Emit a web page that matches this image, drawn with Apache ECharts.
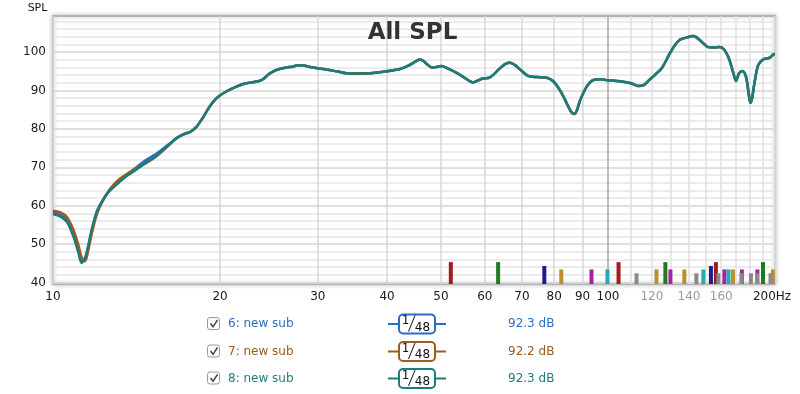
<!DOCTYPE html>
<html><head><meta charset="utf-8">
<script src="https://cdn.jsdelivr.net/npm/echarts@6/dist/echarts.min.js"></script>
<style>html,body{margin:0;padding:0;background:#fff}#c{width:800px;height:394px}</style>
</head><body><div id="c"></div>
<script>
// ---------- data ----------
const freqs = [10,10.3,10.6,10.88,11.1,11.26,11.42,11.58,11.75,12,
  12.3,12.6,12.9,13.2,13.6,14.1,14.75,15.3,15.8,16.3,
  16.7,17.2,17.66,18.15,18.6,19,19.4,19.9,20.56,21.3,
  22.03,22.8,23.44,23.93,24.5,24.95,25.6,26.37,27,27.67,
  28.3,29.05,30.69,32.45,34.29,37.26,39.93,42.19,43.6,44.59,
  45.85,46.6,47.14,48.32,49.3,50.16,51.21,53.38,55.2,57.19,
  58.3,59.41,61.29,63.89,65.5,66.6,68,69.42,71.77,74.5,
  77.57,79.72,81.5,83.1,84.84,86,87.05,88,89.07,91.57,
  94.39,97,99.46,105.1,110,113.4,116,119,122,125,
  127.5,129.3,132,134.8,138.6,142.6,146.5,149,151.6,155,
  159.1,162,164.7,166.5,168.2,170.1,172.3,174.7,177.3,179.2,
  180.6,182,183.2,186.5,190.5,194.4,196.5,198.5,200];

const spl6 = [58.2,57.7,56.3,52.8,48.8,45.4,46.0,49.3,53.6,58.3,
  61.4,63.7,65.3,66.6,68.2,69.9,72.0,73.4,74.9,76.4,
  77.6,78.6,79.2,80.6,82.8,85.0,86.9,88.5,89.8,90.9,
  91.7,92.1,92.4,93.0,94.3,95.0,95.6,96.0,96.2,96.6,
  96.5,96.1,95.6,95.0,94.4,94.5,95.0,95.6,96.4,97.2,
  98.1,97.6,96.9,95.9,96.2,96.4,95.9,94.6,93.3,92.1,
  92.6,93.1,93.4,95.8,97.0,97.2,96.6,95.5,93.8,93.5,
  93.3,92.4,90.6,88.5,85.8,84.3,83.9,85.0,87.4,91.0,
  92.8,92.9,92.7,92.4,91.9,91.2,91.4,92.9,94.3,95.8,
  98.0,99.7,101.8,103.2,103.8,104.2,103.1,102.1,101.3,101.2,
  101.3,100.6,98.8,96.8,94.6,92.5,94.5,95.1,93.6,89.5,
  86.8,88.2,91.0,96.6,98.1,98.4,98.7,99.4,99.5];

const spl7 = [58.7,58.3,57.0,53.8,50.0,46.6,45.5,48.5,52.8,57.8,
  61.3,63.9,65.7,67.0,68.3,69.6,71.2,72.7,74.4,76.2,
  77.6,78.6,79.2,80.6,82.8,85.0,86.9,88.5,89.8,90.9,
  91.7,92.1,92.4,93.0,94.3,95.0,95.6,96.0,96.2,96.6,
  96.5,96.1,95.6,95.0,94.4,94.5,95.0,95.6,96.4,97.2,
  98.1,97.6,96.9,95.9,96.2,96.4,95.9,94.6,93.3,92.1,
  92.6,93.1,93.4,95.8,97.0,97.2,96.6,95.5,93.8,93.5,
  93.3,92.4,90.6,88.5,85.8,84.3,83.9,85.0,87.4,91.0,
  92.8,92.9,92.7,92.4,91.9,91.2,91.4,92.9,94.3,95.8,
  98.0,99.7,101.8,103.2,103.8,104.2,103.1,102.1,101.3,101.2,
  101.3,100.6,98.8,96.8,94.6,92.5,94.5,95.1,93.6,89.5,
  86.8,88.2,91.0,96.6,98.1,98.4,98.7,99.4,99.5];

const spl8 = [57.8,57.2,55.7,52.0,48.0,45.1,46.4,49.8,54.0,58.6,
  61.6,63.6,65.0,66.3,67.8,69.3,71.3,72.8,74.5,76.3,
  77.6,78.6,79.2,80.6,82.8,85.0,86.9,88.5,89.8,90.9,
  91.7,92.1,92.4,93.0,94.3,95.0,95.6,96.0,96.2,96.6,
  96.5,96.1,95.6,95.0,94.4,94.5,95.0,95.6,96.4,97.2,
  98.1,97.6,96.9,95.9,96.2,96.4,95.9,94.6,93.3,92.1,
  92.6,93.1,93.4,95.8,97.0,97.2,96.6,95.5,93.8,93.5,
  93.3,92.4,90.6,88.5,85.8,84.3,83.9,85.0,87.4,91.0,
  92.8,92.9,92.7,92.4,91.9,91.2,91.4,92.9,94.3,95.8,
  98.0,99.7,101.8,103.2,103.8,104.2,103.1,102.1,101.3,101.2,
  101.3,100.6,98.8,96.8,94.6,92.5,94.5,95.1,93.6,89.5,
  86.8,88.2,91.0,96.6,98.1,98.4,98.7,99.4,99.5];

// marker bars: [frequency Hz, top value]
const barsRed = [[52.1,45.3],[104.5,45.3],[156.5,45.3]];
const barsGreen = [[63.4,45.3],[126.9,45.3],[190.3,45.3]];
const barsNavy = [[76.8,44.3],[153.3,44.3]];
const barsGold = [[82.4,43.4],[122.3,43.4],[137.3,43.4],[168.0,43.4],[198.3,43.4]];
const barsMagenta = [[93.4,43.4],[129.6,43.4],[162.1,43.4],[174.3,43.4],[185.9,43.4]];
const barsCyan = [[99.8,43.4],[148.6,43.4],[164.9,43.4]];
const barsGray = [[112.6,42.4],[144.3,42.4],[158.1,42.4],[174.0,42.4],[181.0,42.4],[185.6,42.4],[196.3,42.4]];

const seriesNames = ['6: new sub','7: new sub','8: new sub'];
const seriesLevels = ['92.3 dB','92.2 dB','92.3 dB'];
const smoothNum = '1';
const smoothDen = '48';
const chartTitle = 'All SPL';
const yName = 'SPL';

const xGridValues = [10,20,30,40,50,60,70,80,90,100,110,120,130,140,150,160,170,180,190,200];
const xLabelValues = [10,20,30,40,50,60,70,80,90,100,120,140,160,200];
const yLabelValues = [40,50,60,70,80,90,100];
const yGridValues = [40,42,44,46,48,50,52,54,56,58,60,62,64,66,68,70,72,74,76,78,80,82,84,86,88,90,92,94,96,98,100,102,104,106,108];

// ---------- styles ----------
const FONT = 'DejaVu Sans';
const lineColors = ['#2b6cc4','#9e5c1f','#1b7d79'];
const textColors = ['#2c70c2','#9a5a1e','#1e807c'];

const xSplitColors = xGridValues.map(v => v === 100 ? '#a8a8a8' : (v > 100 ? '#e0e0e0' : '#d6d6d6'));
const ySplitColors = yGridValues.map(v => v % 10 === 0 ? '#d4d4d4' : '#e6e6e6');

const chart = echarts.init(document.getElementById('c'), null, {renderer: 'canvas'});

function lineSeries(vals, i) {
  return {
    type: 'line', name: seriesNames[i],
    data: freqs.map((f, k) => [f, vals[k]]),
    showSymbol: false, smooth: 0.3, z: 3 + i,
    lineStyle: {width: 2.5, color: lineColors[i]},
    itemStyle: {color: lineColors[i]},
    animation: false
  };
}
function barSeries(data, color) {
  return {
    type: 'bar', data: data, barWidth: 4, barGap: '-100%', clip: true,
    itemStyle: {color: color}, z: 2, animation: false
  };
}

const graphics = [];
graphics.push({type: 'text', x: 412.5, y: 33, z: 100,
  style: {text: chartTitle, font: 'bold 23px ' + FONT, fill: '#333', align: 'center', verticalAlign: 'middle'}});
graphics.push({type: 'text', x: 37.5, y: 8, z: 100,
  style: {text: yName, font: '11px ' + FONT, fill: '#111', align: 'center', verticalAlign: 'middle'}});

const rowY = [324, 351.5, 378.5];
seriesNames.forEach((name, i) => {
  const ry = rowY[i];
  graphics.push({type: 'rect', shape: {x: 207.5, y: ry - 6.5, width: 12, height: 12, r: 2.5},
    style: {fill: '#fdfdfd', stroke: '#9a9a9a', lineWidth: 1}});
  graphics.push({type: 'polyline', shape: {points: [[210.5, ry - 0.5], [213, ry + 2.8], [217.5, ry - 4]]},
    style: {fill: null, stroke: '#444', lineWidth: 1.5}});
  graphics.push({type: 'text', x: 228, y: ry,
    style: {text: name, font: '12px ' + FONT, fill: textColors[i], align: 'left', verticalAlign: 'middle'}});
  graphics.push({type: 'line', shape: {x1: 388, y1: ry, x2: 400, y2: ry}, style: {stroke: lineColors[i], lineWidth: 2}});
  graphics.push({type: 'line', shape: {x1: 434, y1: ry, x2: 446, y2: ry}, style: {stroke: lineColors[i], lineWidth: 2}});
  graphics.push({type: 'rect', shape: {x: 399, y: ry - 9.5, width: 36, height: 19, r: 4},
    style: {fill: '#fff', stroke: lineColors[i], lineWidth: 2}});
  graphics.push({type: 'text', x: 405.5, y: ry - 3, z: 10,
    style: {text: smoothNum, font: '12px ' + FONT, fill: '#111', align: 'center', verticalAlign: 'middle'}});
  graphics.push({type: 'line', z: 10, shape: {x1: 408.5, y1: ry + 7.5, x2: 415, y2: ry - 8.5}, style: {stroke: '#111', lineWidth: 1}});
  graphics.push({type: 'text', x: 422.5, y: ry + 3.5, z: 10,
    style: {text: smoothDen, font: '12px ' + FONT, fill: '#111', align: 'center', verticalAlign: 'middle'}});
  graphics.push({type: 'text', x: 508, y: ry,
    style: {text: seriesLevels[i], font: '12px ' + FONT, fill: textColors[i], align: 'left', verticalAlign: 'middle'}});
});

chart.setOption({
  animation: false,
  backgroundColor: '#fff',
  grid: {left: 53, right: 25, top: 16, bottom: 110, show: true, backgroundColor: '#fff',
    borderColor: '#b3b3b3', borderWidth: 2, shadowColor: 'rgba(0,0,0,0.25)', shadowBlur: 4},
  xAxis: {
    type: 'log', logBase: 10, min: 10, max: 200,
    axisLine: {show: false},
    axisTick: {show: false, customValues: xGridValues},
    axisLabel: {
      customValues: xLabelValues, margin: 7, fontFamily: FONT, fontSize: 12,
      formatter: function (v) { const r = Math.round(v); return r === 200 ? '{hz|200Hz}' : String(r); },
      color: function (v) { const r = Math.round(v); return (r === 120 || r === 140 || r === 160) ? '#9a9a9a' : '#1a1a1a'; },
      rich: {hz: {fontFamily: FONT, fontSize: 12, color: '#1a1a1a', padding: [0, 6, 0, 0]}}
    },
    splitLine: {show: true, lineStyle: {color: xSplitColors, width: 1.5}}
  },
  yAxis: {
    type: 'value', min: 39.6, max: 109.4,
    axisLine: {show: false},
    axisTick: {show: false, customValues: yGridValues},
    axisLabel: {customValues: yLabelValues, margin: 7, fontFamily: FONT, fontSize: 12, color: '#1a1a1a'},
    splitLine: {show: true, lineStyle: {color: ySplitColors, width: 1.5}}
  },
  series: [
    barSeries(barsRed, '#a01c1c'),
    barSeries(barsGreen, '#1f7a22'),
    barSeries(barsNavy, '#1c1c8e'),
    barSeries(barsGold, '#b8912c'),
    barSeries(barsMagenta, '#a323a6'),
    barSeries(barsCyan, '#25a9b3'),
    barSeries(barsGray, '#8a8a8a'),
    lineSeries(spl6, 0),
    lineSeries(spl7, 1),
    lineSeries(spl8, 2)
  ],
  graphic: graphics
});
</script>
</body></html>
